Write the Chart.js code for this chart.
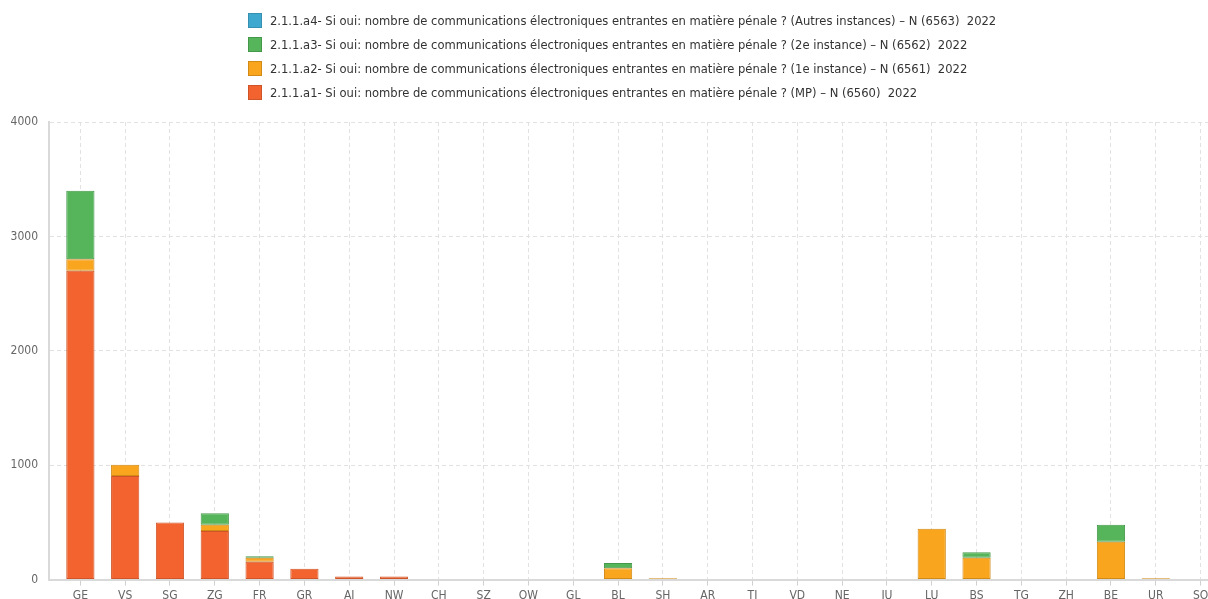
<!DOCTYPE html>
<html>
<head>
<meta charset="utf-8">
<script src="https://cdn.jsdelivr.net/npm/chart.js@4/dist/chart.umd.min.js"></script>
<style>
  html, body { margin: 0; padding: 0; background: #fff; overflow: hidden; }
  #wrap { position: relative; width: 1208px; height: 599px; overflow: hidden; }
  #box { position: absolute; left: 0; top: 0; width: 1245px; height: 606px; }
  #legend { position: absolute; left: 248px; top: 13px; font-family: "DejaVu Sans Condensed", "Liberation Sans", sans-serif; font-size: 12.85px; color: #333; }
  #legend .item { height: 24px; display: flex; align-items: flex-start; white-space: pre; }
  #legend .sw { width: 14px; height: 15px; margin-right: 8px; box-sizing: border-box; border: 1px solid; }
  #legend .tx { line-height: 15px; }
</style>
</head>
<body>
<div id="wrap">
  <div id="box"><canvas id="chart"></canvas></div>
  <div id="legend"></div>
</div>
<script>
const cantons = ['GE', 'VS', 'SG', 'ZG', 'FR', 'GR', 'AI', 'NW', 'CH', 'SZ', 'OW', 'GL', 'BL',
    'SH', 'AR', 'TI', 'VD', 'NE', 'JU', 'LU', 'BS', 'TG', 'ZH', 'BE', 'UR', 'SO'];

// MP
const a1 = [2700, 905, 500, 425, 155, 95, 28, 28, 0, 0, 0, 0, 0, 0, 0, 0, 0, 0, 0, 0, 0, 0, 0, 0, 0, 0];
// 1e instance
const a2 = [100, 100, 0, 55, 35, 0, 0, 0, 0, 0, 0, 0, 100, 12, 0, 0, 0, 0, 0, 445, 190, 0, 0, 330, 12, 0];
// 2e instance
const a3 = [600, 0, 0, 100, 15, 0, 0, 0, 0, 0, 0, 6, 45, 0, 0, 0, 0, 0, 0, 0, 50, 0, 0, 150, 0, 0];
// Autres instances
const a4 = [0, 0, 0, 0, 0, 0, 0, 0, 0, 0, 0, 0, 0, 0, 0, 0, 0, 0, 0, 0, 0, 0, 0, 0, 0, 0];

const yTicks = [0, 1000, 2000, 3000, 4000];

const labelText = 'Si oui: nombre de communications électroniques entrantes en matière pénale ?';
const series = [
    { name: '2.1.1.a1- ' + labelText + ' (MP) – N (6560)  2022', data: a1, fill: '#f2632f', line: '#cf5529' },
    { name: '2.1.1.a2- ' + labelText + ' (1e instance) – N (6561)  2022', data: a2, fill: '#f9a51d', line: '#d28a17' },
    { name: '2.1.1.a3- ' + labelText + ' (2e instance) – N (6562)  2022', data: a3, fill: '#56b55a', line: '#45984a' },
    { name: '2.1.1.a4- ' + labelText + ' (Autres instances) – N (6563)  2022', data: a4, fill: '#3ea8cf', line: '#3590b2' },
];

const tickFont = { family: '"DejaVu Sans Condensed", "Liberation Sans", sans-serif', size: 12 };

const chart = new Chart(document.getElementById('chart'), {
    type: 'bar',
    data: {
        datasets: series.map(s => ({
            label: s.name,
            data: s.data.map((v, i) => ({ x: i, y: v === 0 ? null : v })),
            backgroundColor: s.fill,
            borderColor: s.line,
            borderWidth: 1,
            borderSkipped: false,
            barPercentage: 0.9,
            categoryPercentage: 0.7,
        })),
    },
    options: {
        responsive: true,
        maintainAspectRatio: false,
        animation: false,
        layout: { padding: { top: 122, right: 22, left: 0, bottom: 0 } },
        plugins: {
            legend: { display: false },
            tooltip: { enabled: false },
        },
        scales: {
            x: {
                type: 'linear',
                stacked: true,
                offset: false,
                min: -0.7,
                max: 25.5,
                afterBuildTicks: s => { s.ticks = cantons.map((c, i) => ({ value: i })); },
                grid: { offset: false, color: '#e2e2e2', tickLength: 6, tickColor: '#d0d0d0' },
                border: { color: '#d9d9d9', width: 2, dash: [4, 3] },
                ticks: {
                    autoSkip: false,
                    maxRotation: 0,
                    padding: 3,
                    color: '#666',
                    font: tickFont,
                    callback: v => cantons[v] ?? '',
                },
            },
            y: {
                stacked: true,
                min: yTicks[0],
                max: yTicks[yTicks.length - 1],
                afterFit: s => { s.width = 49; },
                afterBuildTicks: s => { s.ticks = yTicks.map(v => ({ value: v })); },
                grid: { color: '#e2e2e2', drawTicks: false },
                border: { color: '#d9d9d9', width: 2, dash: [4, 3] },
                ticks: { padding: 11, color: '#666', font: tickFont, callback: v => String(v) },
            },
        },
    },
});

// legend, top item first
const legend = document.getElementById('legend');
series.slice().reverse().forEach(s => {
    const item = document.createElement('div');
    item.className = 'item';
    item.innerHTML = `<span class="sw" style="background:${s.fill};border-color:${s.line}"></span><span class="tx"></span>`;
    item.querySelector('.tx').textContent = s.name;
    legend.appendChild(item);
});
</script>
</body>
</html>
